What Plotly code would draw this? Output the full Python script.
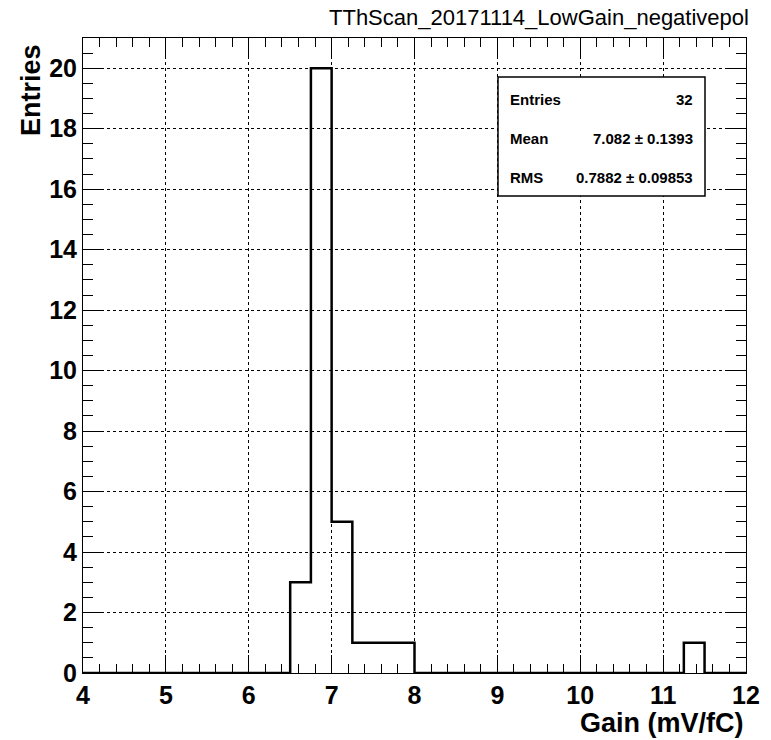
import plotly.graph_objects as go

# ---- data ----
bin_edges = [4.0, 4.25, 4.5, 4.75, 5.0, 5.25, 5.5, 5.75, 6.0, 6.25, 6.5, 6.75,
             7.0, 7.25, 7.5, 7.75, 8.0, 8.25, 8.5, 8.75, 9.0, 9.25, 9.5, 9.75,
             10.0, 10.25, 10.5, 10.75, 11.0, 11.25, 11.5, 11.75, 12.0]
counts = [0, 0, 0, 0, 0, 0, 0, 0, 0, 0, 3, 20,
          5, 1, 1, 1, 0, 0, 0, 0, 0, 0, 0, 0,
          0, 0, 0, 0, 0, 1, 0, 0]
title_text = "TThScan_20171114_LowGain_negativepol"
x_title = "Gain (mV/fC)"
y_title = "Entries"
stats_labels = ["Entries", "Mean", "RMS"]
stats_values = ["32", "7.082 \u00b1 0.1393", "0.7882 \u00b1 0.09853"]
x_range = [4, 12]
y_range = [0, 21]

FONT = "Liberation Sans, Arial, sans-serif"

fig = go.Figure()
fig.add_trace(go.Scatter(
    x=bin_edges,
    y=counts + [counts[-1]],
    mode="lines",
    line=dict(shape="hv", color="black", width=2.5),
    hoverinfo="skip",
    showlegend=False,
))

axis_common = dict(
    showline=True, linecolor="black", linewidth=1,
    mirror="ticks", ticks="inside", tickcolor="black", tickwidth=1,
    showgrid=True, gridcolor="black", gridwidth=1, griddash="dot",
    zeroline=False,
    tickfont=dict(family=FONT, size=25, color="black", weight="bold"),
)

fig.update_xaxes(
    range=x_range, dtick=1, tick0=4, ticklen=18,
    minor=dict(dtick=0.2, ticks="inside", ticklen=9, tickcolor="black", showgrid=False),
    **axis_common,
)
fig.update_yaxes(
    range=y_range, dtick=2, tick0=0, ticklen=20,
    minor=dict(dtick=0.5, ticks="inside", ticklen=10, tickcolor="black", showgrid=False),
    **axis_common,
)

L, R, T, B = 83, 25, 38, 67
W, H = 771, 740
pw, ph = W - L - R, H - T - B


def px(x):
    return (x - L) / pw


def py(y):
    return (H - B - y) / ph


annotations = [
    dict(text=title_text, x=px(751), y=py(17), xref="paper", yref="paper",
         xanchor="right", yanchor="middle", showarrow=False,
         font=dict(family=FONT, size=22, color="black")),
    dict(text=x_title, x=px(746), y=py(723), xref="paper", yref="paper",
         xanchor="right", yanchor="middle", showarrow=False,
         font=dict(family=FONT, size=27, color="black", weight="bold")),
    dict(text=y_title, x=px(31), y=py(42), xref="paper", yref="paper",
         xanchor="center", yanchor="top", textangle=-90, showarrow=False,
         font=dict(family=FONT, size=27, color="black", weight="bold")),
]
row_y = [99, 138, 177]
for lab, val, ry in zip(stats_labels, stats_values, row_y):
    annotations.append(dict(text=lab, x=px(508), y=py(ry), xref="paper", yref="paper",
                            xanchor="left", yanchor="middle", showarrow=False,
                            font=dict(family=FONT, size=15, color="black", weight="bold")))
    annotations.append(dict(text=val, x=px(695), y=py(ry), xref="paper", yref="paper",
                            xanchor="right", yanchor="middle", showarrow=False,
                            font=dict(family=FONT, size=15, color="black", weight="bold")))

fig.update_layout(
    width=W, height=H,
    margin=dict(l=L, r=R, t=T, b=B),
    paper_bgcolor="white", plot_bgcolor="white",
    annotations=annotations,
    shapes=[dict(type="rect", xref="paper", yref="paper",
                 x0=px(498), x1=px(705), y0=py(196), y1=py(77),
                 line=dict(color="black", width=1.5), fillcolor="white", layer="above")],
)

fig.write_html("out.html")
